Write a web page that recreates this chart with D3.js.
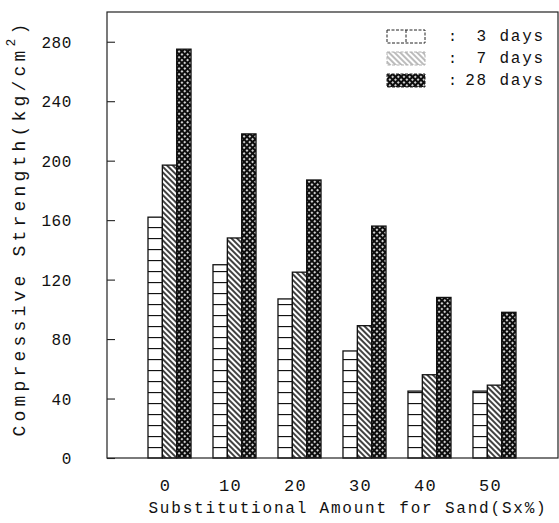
<!DOCTYPE html>
<html>
<head>
<meta charset="utf-8">
<script src="https://cdn.jsdelivr.net/npm/d3@7"></script>
<style>
  body { margin: 0; background: #fff; }
  text { font-family: "Liberation Mono", "DejaVu Sans Mono", monospace; fill: #111; }
</style>
</head>
<body>
<svg id="chart" width="559" height="523"></svg>
<script>
// values
var amounts = ['0', '10', '20', '30', '40', '50'];
var series = ['3 days', '7 days', '28 days'];
var days3 = [162, 130, 107, 72, 45, 45];
var days7 = [197, 148, 125, 89, 56, 49];
var days28 = [275, 218, 187, 156, 108, 98];
var yTicks = [0, 40, 80, 120, 160, 200, 240, 280];
var legendLabels = ['3 days', '7 days', '28 days'];

var svg = d3.select('#chart'),
    margin = {left: 107, top: 12, right: 1, bottom: 65},
    width = 559 - margin.left - margin.right,
    height = 523 - margin.top - margin.bottom;

var defs = svg.append('defs');

// 3 days: stacked squares
var p3 = defs.append('pattern').attr('id', 'p3')
  .attr('patternUnits', 'userSpaceOnUse')
  .attr('width', 20).attr('height', 11).attr('y', height);
p3.append('rect').attr('width', 20).attr('height', 11).attr('fill', '#fff');
p3.append('line').attr('x1', 0).attr('x2', 20).attr('y1', 0.5).attr('y2', 0.5)
  .attr('stroke', '#111').attr('stroke-width', 1.3);

// 7 days: diagonal hatch
var p7 = defs.append('pattern').attr('id', 'p7')
  .attr('patternUnits', 'userSpaceOnUse')
  .attr('width', 4).attr('height', 10)
  .attr('patternTransform', 'rotate(-45)');
p7.append('rect').attr('width', 4).attr('height', 10).attr('fill', '#fff');
p7.append('line').attr('x1', 1).attr('x2', 1).attr('y1', 0).attr('y2', 10)
  .attr('stroke', '#111').attr('stroke-width', 1.6);

// 28 days: dense cross hatch
var p28 = defs.append('pattern').attr('id', 'p28')
  .attr('patternUnits', 'userSpaceOnUse')
  .attr('width', 4).attr('height', 4)
  .attr('patternTransform', 'rotate(45)');
p28.append('rect').attr('width', 4).attr('height', 4).attr('fill', '#0d0d0d');
p28.append('rect').attr('width', 1.8).attr('height', 1.8).attr('x', 1.1).attr('y', 1.1).attr('fill', '#fff');

var fills = ['url(#p3)', 'url(#p7)', 'url(#p28)'];

var g = svg.append('g').attr('transform', 'translate(' + margin.left + ',' + margin.top + ')');

var x = d3.scaleBand().domain(amounts).range([41, 409]).paddingInner(0.338).paddingOuter(0);
var xs = d3.scaleBand().domain(series).range([0, x.bandwidth()]);
var y = d3.scaleLinear().domain([0, 300]).range([height, 0]);

var rows = amounts.map(function (a, i) {
  return {amount: a, values: [days3[i], days7[i], days28[i]]};
});

var groups = g.selectAll('.grp').data(rows).enter().append('g')
  .attr('class', 'grp')
  .attr('transform', function (d) { return 'translate(' + x(d.amount) + ',0)'; });

groups.selectAll('rect').data(function (d) {
  return d.values.map(function (v, k) { return {s: series[k], v: v, k: k}; });
}).enter().append('rect')
  .attr('x', function (d) { return xs(d.s); })
  .attr('width', xs.bandwidth())
  .attr('y', function (d) { return y(d.v); })
  .attr('height', function (d) { return height - y(d.v); })
  .attr('fill', function (d) { return fills[d.k]; })
  .attr('stroke', '#111')
  .attr('stroke-width', 1.3);

// frame
g.append('rect').attr('width', width).attr('height', height)
  .attr('fill', 'none').attr('stroke', '#222').attr('stroke-width', 1.2);

// y axis with inward ticks
var yAxis = g.append('g').call(
  d3.axisLeft(y).tickValues(yTicks).tickSizeInner(-8).tickSizeOuter(0).tickPadding(35)
);
yAxis.select('.domain').remove();
yAxis.selectAll('line').attr('stroke', '#222').attr('stroke-width', 1.1);
yAxis.selectAll('text').style('font-size', '16px').style('letter-spacing', '0.6px')
  .attr('dy', '0.35em').attr('fill', '#111');

// x axis labels
var xAxis = g.append('g').attr('transform', 'translate(0,' + height + ')').call(
  d3.axisBottom(x).tickSize(0).tickPadding(21)
);
xAxis.select('.domain').remove();
xAxis.selectAll('text').style('font-size', '17px').style('letter-spacing', '1.2px')
  .attr('x', -4).attr('fill', '#111');

// axis titles
svg.append('text').attr('x', 348).attr('y', 513)
  .attr('text-anchor', 'middle')
  .style('font-size', '16px').style('letter-spacing', '1.8px')
  .text('Substitutional Amount for Sand(Sx%)');

var yt = svg.append('text')
  .attr('transform', 'translate(25,228) rotate(-90)')
  .attr('text-anchor', 'middle')
  .style('font-size', '18px').style('letter-spacing', '4.2px');
yt.append('tspan').text('Compressive Strength(kg/cm');
yt.append('tspan').attr('dy', -10).style('font-size', '13px').text('2');
yt.append('tspan').attr('dy', 10).text(')');

// legend
var legend = svg.append('g').attr('transform', 'translate(387,30)');
var li = legend.selectAll('g').data(legendLabels).enter().append('g')
  .attr('transform', function (d, i) { return 'translate(0,' + (i * 22) + ')'; });
li.append('rect').attr('width', 38).attr('height', 13)
  .attr('fill', function (d, i) { return i === 0 ? '#fff' : fills[i]; })
  .attr('opacity', function (d, i) { return i === 1 ? 0.35 : 1; })
  .attr('stroke', '#222').attr('stroke-width', 1).attr('stroke-dasharray', '3,1.5');
li.filter(function (d, i) { return i === 0; }).append('line')
  .attr('x1', 19).attr('x2', 19).attr('y1', 0).attr('y2', 13)
  .attr('stroke', '#222').attr('stroke-dasharray', '3,1.5');
li.append('text').attr('x', 61).attr('y', 11)
  .style('font-size', '15px').text(':');
li.append('text').attr('x', 158).attr('y', 11).attr('text-anchor', 'end')
  .style('font-size', '16px').style('letter-spacing', '1.8px')
  .text(function (d) { return d; });
</script>
</body>
</html>
